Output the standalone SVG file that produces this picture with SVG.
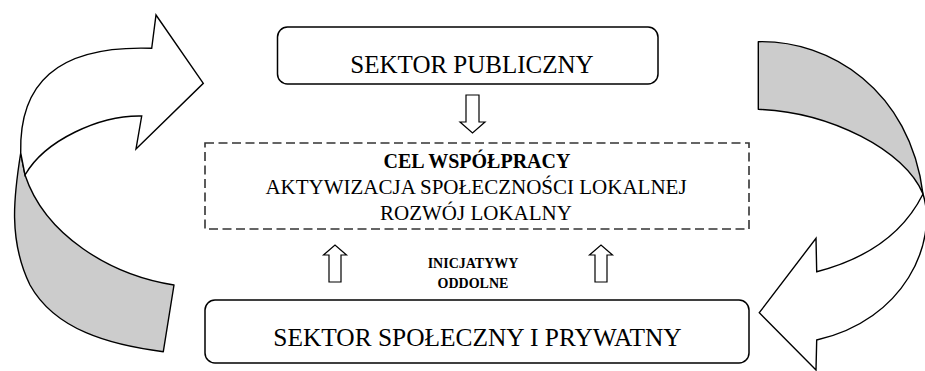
<svg xmlns="http://www.w3.org/2000/svg" width="925" height="371" viewBox="0 0 925 371">
<style>
  .box { fill: #ffffff; stroke: #000000; stroke-width: 1.5; }
  .dash { fill: #ffffff; stroke: #333333; stroke-width: 1.6; stroke-dasharray: 9 4.5; }
  .t { font-family: "Liberation Serif", "Times New Roman", serif; fill: #000000; text-anchor: middle; }
  .blk { fill: #ffffff; stroke: #000000; stroke-width: 1.2; stroke-linejoin: miter; }
  .band { fill: #cccccc; stroke: #000000; stroke-width: 1.4; stroke-linejoin: round; }
  .wband { fill: #ffffff; stroke: #000000; stroke-width: 1.4; stroke-linejoin: miter; }
</style>
<rect width="925" height="371" fill="#ffffff"/>

<g id="cycle-left">
  <path class="band" d="M 20.7,153 C 14,195 8,240 30,285 C 55,330 110,345 163.3,351.7 L 174,285 C 110,275 45,235 25,175 Z"/>
  <path class="wband" d="M 20.7,153 C 19,85 55,45 151.7,48.3 L 156,15 L 203.3,83.3 L 136,149 L 141.7,116 C 100,115 45,140 25,175 Z"/>
</g>

<g id="cycle-right">
  <path class="band" d="M 758.3,41.7 C 830,40 910,90 923,194 C 905,150 830,112 758.3,109.3 Z"/>
  <path class="wband" d="M 923,194 C 938,242 905,320 816.7,340 L 816,370 L 759.3,312.7 L 816,238.3 L 816.7,271.7 C 870,258 905,230 923,194 Z"/>
</g>

<g id="sektor-publiczny">
  <rect class="box" x="277.5" y="27" width="380.5" height="57" rx="10" ry="10"/>
  <text class="t" x="472" y="73" font-size="25">SEKTOR PUBLICZNY</text>
</g>

<g id="cel-wspolpracy">
  <rect class="dash" x="205" y="143" width="544" height="86"/>
  <text class="t" x="477" y="168" font-size="20" font-weight="bold">CEL WSPÓŁPRACY</text>
  <text class="t" x="476" y="194" font-size="21">AKTYWIZACJA SPOŁECZNOŚCI LOKALNEJ</text>
  <text class="t" x="476" y="219.5" font-size="21">ROZWÓJ LOKALNY</text>
</g>

<g id="sektor-spoleczny">
  <rect class="box" x="205" y="300" width="544" height="63" rx="10" ry="10"/>
  <text class="t" x="477.5" y="346" font-size="25.4">SEKTOR SPOŁECZNY I PRYWATNY</text>
</g>

<g id="inicjatywy-label">
  <text class="t" x="473" y="268" font-size="14" font-weight="bold">INICJATYWY</text>
  <text class="t" x="473" y="288" font-size="14" font-weight="bold">ODDOLNE</text>
</g>

<g id="connectors">
  <path class="blk" d="M 466,95 L 479,95 L 479,122 L 485,122 L 472.5,133 L 460,122 L 466,122 Z"/>
  <path class="blk" d="M 329,282 L 341,282 L 341,255 L 346.5,255 L 335,245 L 323.5,255 L 329,255 Z"/>
  <path class="blk" d="M 595,282 L 607,282 L 607,255 L 612.5,255 L 601,245 L 589.5,255 L 595,255 Z"/>
</g>
</svg>
